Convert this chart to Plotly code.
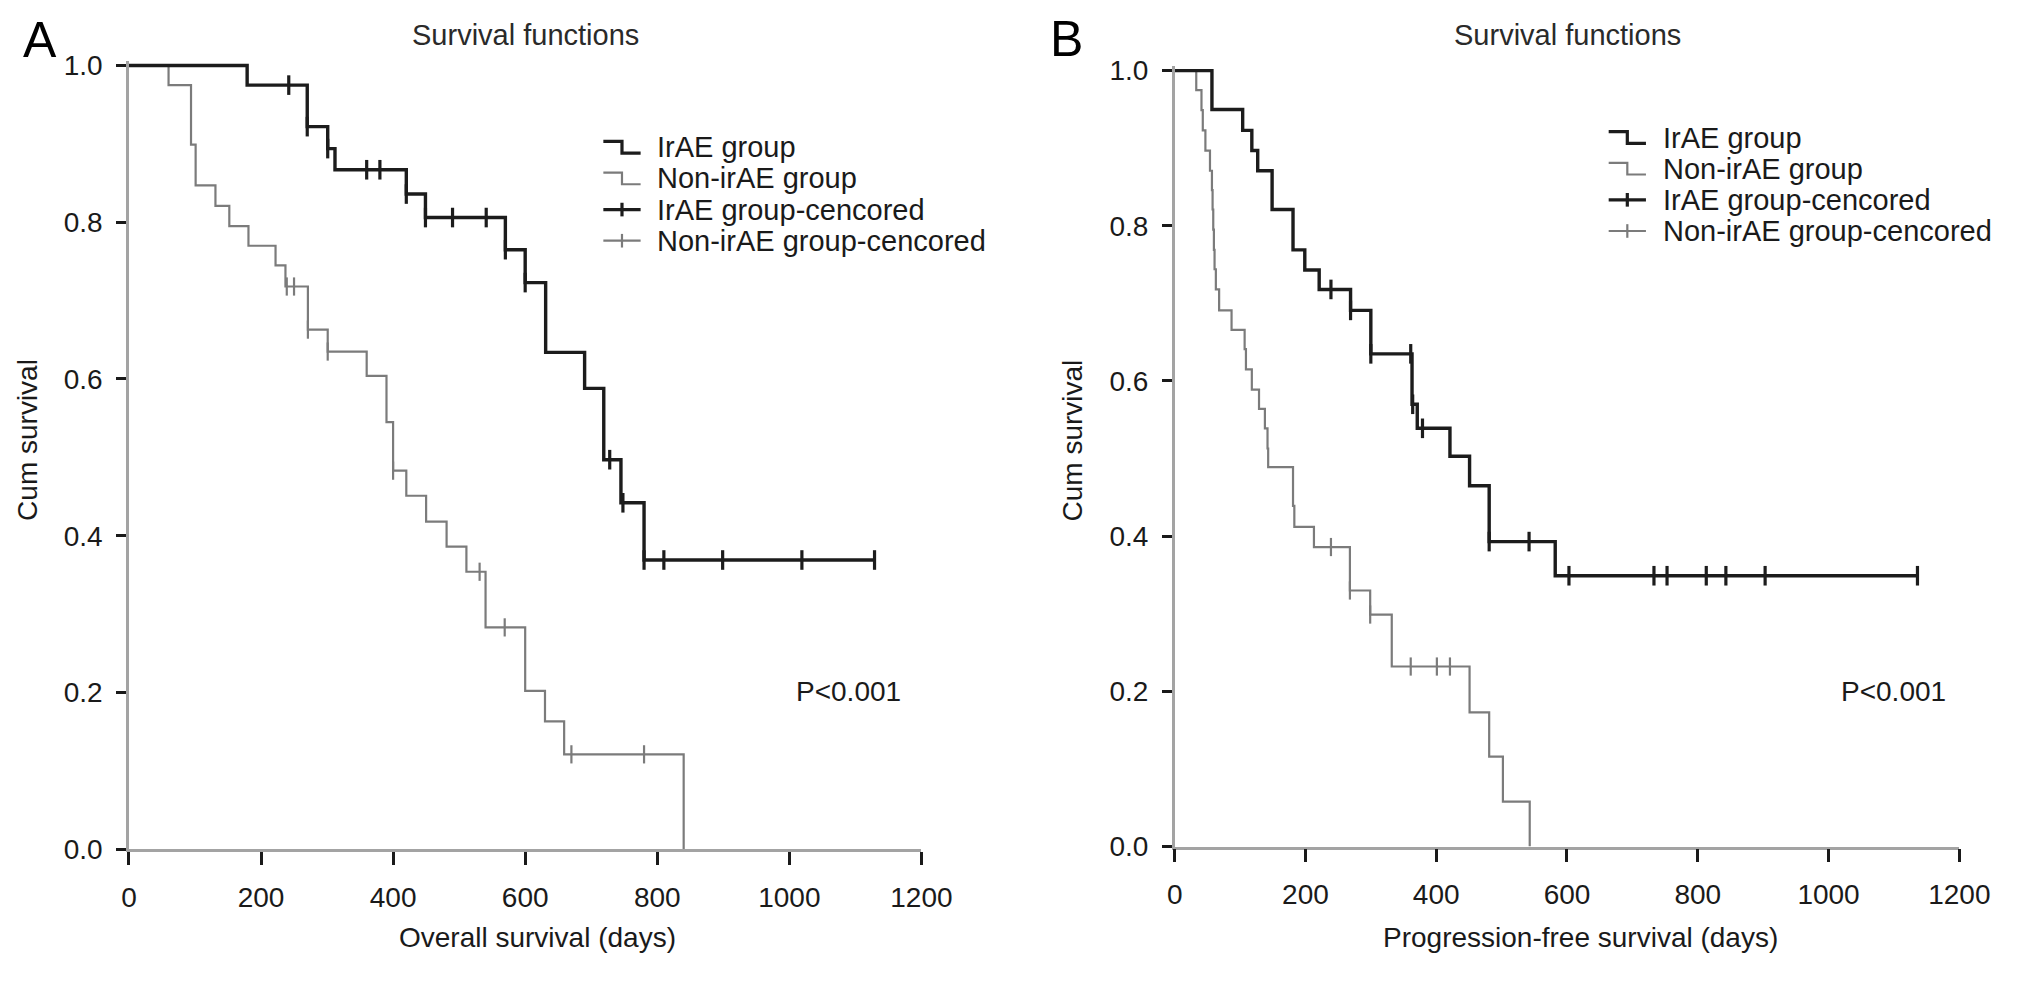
import plotly.graph_objects as go

# ---------------- data ----------------
# Panel A: overall survival
os_irae_event_days = [179, 270, 301, 312, 420, 449, 570, 600, 631, 690, 719, 745, 780]
os_irae_event_surv = [0.975, 0.922, 0.894, 0.867, 0.836, 0.806, 0.765, 0.723, 0.634, 0.588, 0.497, 0.442, 0.369]
os_irae_cens_days = [242, 270, 301, 360, 380, 420, 449, 490, 541, 570, 600, 728, 748, 780, 810, 899, 1019, 1129]

os_non_event_days = [60, 94, 101, 131, 152, 181, 222, 237, 271, 301, 360, 390, 400, 420, 450, 481, 511, 540, 600, 630, 659, 840]
os_non_event_surv = [0.975, 0.899, 0.847, 0.821, 0.795, 0.770, 0.745, 0.718, 0.663, 0.635, 0.604, 0.545, 0.483, 0.451, 0.418, 0.386, 0.354, 0.283, 0.202, 0.163, 0.121, 0.0]
os_non_cens_days = [239, 250, 271, 301, 400, 531, 569, 670, 780]

# Panel B: progression-free survival
pfs_irae_event_days = [57, 104, 118, 127, 149, 181, 199, 221, 269, 300, 363, 371, 421, 451, 481, 582]
pfs_irae_event_surv = [0.950, 0.923, 0.897, 0.871, 0.821, 0.769, 0.743, 0.718, 0.691, 0.635, 0.570, 0.539, 0.503, 0.465, 0.393, 0.349]
pfs_irae_cens_days = [239, 269, 300, 361, 364, 379, 481, 542, 603, 733, 753, 813, 843, 903, 1136]

pfs_non_event_days = [33, 41, 43, 47, 54, 57, 58, 59, 60, 61, 63, 68, 87, 107, 109, 118, 129, 138, 142, 143,
                      181, 183, 213, 268, 299, 332, 451, 481, 502, 543]
pfs_non_event_surv = [0.975, 0.949, 0.923, 0.897, 0.871, 0.846, 0.821, 0.795, 0.769, 0.744, 0.718, 0.691, 0.666,
                      0.641, 0.615, 0.589, 0.564, 0.539, 0.513, 0.489, 0.439, 0.412, 0.386, 0.330, 0.299, 0.232,
                      0.173, 0.116, 0.058, 0.0]
pfs_non_cens_days = [239, 268, 299, 361, 401, 421]

x_ticks = [0, 200, 400, 600, 800, 1000, 1200]
y_ticks = [0.0, 0.2, 0.4, 0.6, 0.8, 1.0]
legend_labels = ["IrAE group", "Non-irAE group", "IrAE group-cencored", "Non-irAE group-cencored"]
panel_letters = ["A", "B"]
x_titles = ["Overall survival (days)", "Progression-free survival (days)"]
y_title = "Cum survival"
chart_title = "Survival functions"
p_text = "P<0.001"

# ---------------- helpers ----------------
def step_xy(days, surv, cens):
    xs = [0] + list(days)
    ys = [1.0] + list(surv)
    end = max(cens) if cens else days[-1]
    if end > days[-1]:
        xs.append(end)
        ys.append(surv[-1])
    return xs, ys

def surv_at(days, surv, t):
    s = 1.0
    for d, v in zip(days, surv):
        if d <= t:
            s = v
    return s

W, H = 2032, 981
def px(X):
    return X / W
def py(Y):
    return 1 - Y / H

FONT = "Liberation Sans, Arial, sans-serif"
TXT = "#1a1a1a"
BLACK = "#1c1c1c"
GRAY = "#7b7b7b"

fig = go.Figure()

panels = [
    ("x", "y", os_irae_event_days, os_irae_event_surv, os_irae_cens_days,
     os_non_event_days, os_non_event_surv, os_non_cens_days),
    ("x2", "y2", pfs_irae_event_days, pfs_irae_event_surv, pfs_irae_cens_days,
     pfs_non_event_days, pfs_non_event_surv, pfs_non_cens_days),
]

for xa, ya, ied, ies, icd, ned, nes, ncd in panels:
    nx, ny = step_xy(ned, nes, ncd)
    fig.add_trace(go.Scatter(x=nx, y=ny, mode="lines", line=dict(color=GRAY, width=2.2, shape="hv"),
                             xaxis=xa, yaxis=ya, showlegend=False, hoverinfo="skip"))
    fig.add_trace(go.Scatter(x=ncd, y=[surv_at(ned, nes, t) for t in ncd], mode="markers",
                             marker=dict(symbol="line-ns", size=13, line=dict(color=GRAY, width=2.2)),
                             xaxis=xa, yaxis=ya, showlegend=False, cliponaxis=False, hoverinfo="skip"))
    ix, iy = step_xy(ied, ies, icd)
    fig.add_trace(go.Scatter(x=ix, y=iy, mode="lines", line=dict(color=BLACK, width=3.4, shape="hv"),
                             xaxis=xa, yaxis=ya, showlegend=False, hoverinfo="skip"))
    fig.add_trace(go.Scatter(x=icd, y=[surv_at(ied, ies, t) for t in icd], mode="markers",
                             marker=dict(symbol="line-ns", size=14, line=dict(color=BLACK, width=3.2)),
                             xaxis=xa, yaxis=ya, showlegend=False, cliponaxis=False, hoverinfo="skip"))

axis_common = dict(showgrid=False, zeroline=False, showline=True, linecolor="#a3a3a3", linewidth=2.5,
                   ticks="outside", tickcolor="#1a1a1a", tickwidth=3,
                   tickfont=dict(family=FONT, size=28, color=TXT))

layout_axes = {}
doms = [
    ((123.3, 931.3), (862.0, 52.2)),
    ((1189.5, 1989.5), (859.3, 57.5)),
]
for i, ((x0, x1), (yb, yt)) in enumerate(doms):
    sx = "" if i == 0 else "2"
    layout_axes["xaxis" + sx] = dict(axis_common, domain=[px(x0), px(x1)], range=[0, 1200],
                                     tickvals=x_ticks, ticklen=13, ticklabelstandoff=8,
                                     anchor="y" + sx)
    layout_axes["yaxis" + sx] = dict(axis_common, domain=[py(yb), py(yt)], range=[0, 1.006],
                                     tickvals=y_ticks, tickformat=".1f", ticklen=10, ticklabelstandoff=8,
                                     anchor="x" + sx)

annotations = []
shapes = []

def ann(text, X, Y, size, xanchor="center", yanchor="middle", angle=0, color=TXT):
    annotations.append(dict(text=text, x=px(X), y=py(Y), xref="paper", yref="paper", showarrow=False,
                            xanchor=xanchor, yanchor=yanchor, textangle=angle,
                            font=dict(family=FONT, size=size, color=color)))

ann(panel_letters[0], 33, 31, 50, color="#000000")
ann(panel_letters[1], 1079, 30, 50, color="#000000")
ann(chart_title, 528, 26, 29, color="#2a2a2a")
ann(chart_title, 1590, 26, 29, color="#2a2a2a")
ann(x_titles[0], 540, 953, 28)
ann(x_titles[1], 1603, 953, 28)
ann(y_title, 20, 442, 28, angle=-90)
ann(y_title, 1085, 442, 28, angle=-90)
ann(p_text, 857, 700, 28)
ann(p_text, 1922, 700, 28)

legend_specs = [
    (607, 645, 660, [141, 173, 205, 237]),
    (1632, 1670, 1685, [131, 163, 195, 227]),
]
colors = [BLACK, GRAY, BLACK, GRAY]
widths = [3.2, 2.2, 3.2, 2.2]
for sx0, sx1, tx, rows in legend_specs:
    for k, (lab, ry) in enumerate(zip(legend_labels, rows)):
        xm = (sx0 + sx1) / 2
        if k < 2:
            path = "M {a},{b} L {c},{b} L {c},{d} L {e},{d}".format(
                a=px(sx0), b=py(ry - 6), c=px(xm), d=py(ry + 6), e=px(sx1))
            shapes.append(dict(type="path", path=path, xref="paper", yref="paper",
                               line=dict(color=colors[k], width=widths[k])))
        else:
            shapes.append(dict(type="line", x0=px(sx0), x1=px(sx1), y0=py(ry), y1=py(ry),
                               xref="paper", yref="paper", line=dict(color=colors[k], width=widths[k])))
            shapes.append(dict(type="line", x0=px(xm), x1=px(xm), y0=py(ry - 7), y1=py(ry + 7),
                               xref="paper", yref="paper", line=dict(color=colors[k], width=widths[k])))
        ann(lab, tx, ry, 29, xanchor="left")

fig.update_layout(width=W, height=H, margin=dict(l=0, r=0, t=0, b=0),
                  paper_bgcolor="white", plot_bgcolor="white", showlegend=False,
                  annotations=annotations, shapes=shapes, **layout_axes)

fig.write_html("out.html", config={"displayModeBar": False},
               post_script="document.body.style.margin='0px';document.body.style.overflow='hidden';")
